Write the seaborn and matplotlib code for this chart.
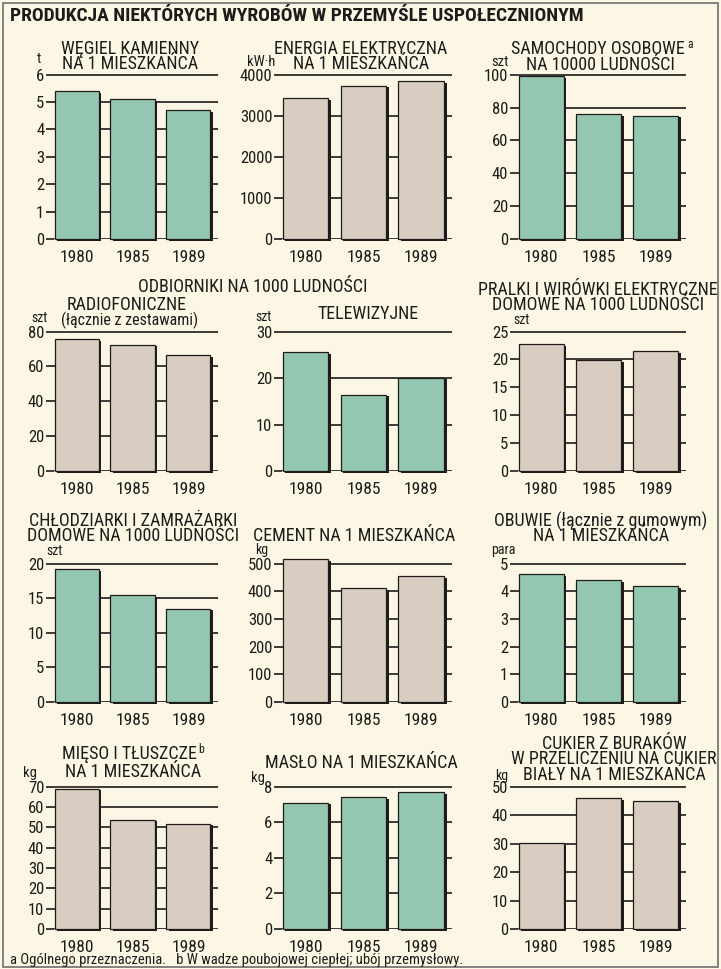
import matplotlib
matplotlib.use("Agg")
import matplotlib.pyplot as plt
import matplotlib.patheffects as pe
import matplotlib.font_manager as fm
from matplotlib.patches import Rectangle
import seaborn as sns
import pandas as pd

# dane
years = ['1980', '1985', '1989']
wegiel = [5.4, 5.1, 4.7]
energia = [3420, 3730, 3840]
samochody = [99, 76, 75]
radio = [75.5, 72.5, 66.5]
telewizory = [25.5, 16.4, 20.1]
pralki = [22.7, 19.9, 21.5]
chlodziarki = [19.2, 15.4, 13.5]
cement = [517, 410, 454]
obuwie = [4.62, 4.40, 4.18]
mieso = [69.0, 53.8, 51.7]
maslo = [7.1, 7.4, 7.7]
cukier = [30.2, 45.9, 44.8]

BG = '#fbf7e4'
TEAL = '#94c7b1'
BEIGE = '#d9cdc2'
INK = '#1e1b1a'


def pick_font():
    # szukamy kroju wąskiego, jak w oryginale
    names = {f.name for f in fm.fontManager.ttflist}
    for n in ['Liberation Sans Narrow', 'Roboto Condensed', 'DejaVu Sans Condensed',
              'Noto Sans Condensed', 'Open Sans Condensed', 'Arial Narrow']:
        if n in names:
            return n, 'normal', 1.0
    for f in fm.fontManager.ttflist:
        if f.stretch in ('condensed', 'semi-condensed', 'extra-condensed') and \
                f.name in ('DejaVu Sans', 'Noto Sans', 'Roboto', 'Open Sans', 'Liberation Sans', 'Lato'):
            return f.name, f.stretch, 1.0
    return 'DejaVu Sans', 'normal', 0.8


FONT, STRETCH, K = pick_font()

sns.set_theme(style='white')
plt.rcParams['font.family'] = [FONT, 'DejaVu Sans']
plt.rcParams['font.stretch'] = STRETCH

W, H = 721, 969
fig = plt.figure(figsize=(W / 100, H / 100), dpi=100, facecolor=BG)


def px(x, y):
    return x / W, 1 - y / H


def panel(left, right, top, bottom, values, ymax, step, color):
    x0, y1 = px(left, top)
    x1, y0 = px(right, bottom)
    ax = fig.add_axes([x0, y0, x1 - x0, y1 - y0])
    df = pd.DataFrame({'rok': years, 'wartosc': values})
    sns.barplot(data=df, x='rok', y='wartosc', ax=ax, color=color, width=0.79,
                edgecolor=INK, linewidth=0.9, saturation=1, zorder=3)
    for p in ax.patches:
        p.set_clip_on(False)
        p.set_path_effects([pe.SimplePatchShadow(offset=(1.8, -1.2), shadow_rgbFace=INK, alpha=1),
                            pe.Normal()])
    ax.set_facecolor(BG)
    ax.set_xlim(-0.405, 2.53)
    ax.set_ylim(0, ymax * 1.004)
    ticks = list(range(0, int(ymax) + 1, int(step)))
    ax.set_yticks(ticks)
    ax.set_yticklabels([str(t) for t in ticks])
    ax.set_axisbelow(True)
    ax.yaxis.grid(True, color=INK, linewidth=1.2)
    ax.xaxis.grid(False)
    for s in ax.spines.values():
        s.set_visible(False)
    ax.tick_params(axis='y', which='both', left=True, length=6, width=1.2, color=INK,
                   labelsize=12 * K, pad=1, labelcolor=INK)
    ax.tick_params(axis='x', bottom=False, labelsize=12.5 * K, pad=2, labelcolor=INK)
    ax.set_xlabel('')
    ax.set_ylabel('')
    return ax


def txt(x, y, s, size=13, ha='center', **kw):
    return fig.text(*px(x, y), s, fontsize=size * K, ha=ha, va='center', color=INK, **kw)


def block(x, y, s, gap=0.72, **kw):
    # tytuł kilkuwierszowy, ciasno złożony
    return txt(x, y, s, linespacing=gap, **kw)


def sup(t, s, line_top=None):
    # mała litera przypisu tuż za pierwszym wierszem tytułu
    r = fig.canvas.get_renderer()
    bb = t.get_window_extent(renderer=r)
    y = bb.y1 if line_top is None else line_top
    fig.text((bb.x1 + 2) / W, (y + 2) / H, s, fontsize=8.5 * K, ha='left', va='top', color=INK)


cols = [(54, 218), (282, 452), (518, 686)]
rows = [(74, 239), (331, 471), (563, 702), (786, 929)]

panel(*cols[0], *rows[0], wegiel, 6, 1, TEAL)
panel(*cols[1], *rows[0], energia, 4000, 1000, BEIGE)
panel(*cols[2], *rows[0], samochody, 100, 20, TEAL)
panel(*cols[0], *rows[1], radio, 80, 20, BEIGE)
panel(*cols[1], *rows[1], telewizory, 30, 10, TEAL)
panel(*cols[2], *rows[1], pralki, 25, 5, BEIGE)
panel(*cols[0], *rows[2], chlodziarki, 20, 5, TEAL)
panel(*cols[1], *rows[2], cement, 500, 100, BEIGE)
panel(*cols[2], *rows[2], obuwie, 5, 1, TEAL)
panel(*cols[0], *rows[3], mieso, 70, 10, BEIGE)
panel(*cols[1], *rows[3], maslo, 8, 2, TEAL)
panel(*cols[2], *rows[3], cukier, 50, 10, BEIGE)

fig.canvas.draw()

# tytuł główny
fig.text(*px(10, 16), 'PRODUKCJA NIEKTÓRYCH WYROBÓW W PRZEMYŚLE USPOŁECZNIONYM',
         fontsize=14 * K, fontweight='bold', ha='left', va='center', color=INK)

# wiersz 1
block(130, 56.5, 'WĘGIEL KAMIENNY\nNA 1 MIESZKAŃCA')
txt(39, 59, 't', size=10.5)
block(361, 56.5, 'ENERGIA ELEKTRYCZNA\nNA 1 MIESZKAŃCA')
txt(261, 62, 'kW·h', size=10.5)
t = txt(598, 49, 'SAMOCHODY OSOBOWE')
sup(t, 'a')
txt(600, 65, 'NA 10000 LUDNOŚCI')
txt(500, 62, 'szt', size=10.5)

# wiersz 2
txt(253, 287, 'ODBIORNIKI NA 1000 LUDNOŚCI')
txt(127, 305, 'RADIOFONICZNE')
txt(130, 320, '(łącznie z zestawami)', size=11.5)
txt(39, 318, 'szt', size=10)
txt(368, 314, 'TELEWIZYJNE')
txt(263, 317, 'szt', size=10)
block(598, 297.5, 'PRALKI I WIRÓWKI ELEKTRYCZNE\nDOMOWE NA 1000 LUDNOŚCI')
txt(521, 320, 'szt', size=10)

# wiersz 3
block(133, 528.5, 'CHŁODZIARKI I ZAMRAŻARKI\nDOMOWE NA 1000 LUDNOŚCI')
txt(55, 551, 'szt', size=10)
txt(354, 536, 'CEMENT NA 1 MIESZKAŃCA')
txt(262, 550, 'kg', size=10)
block(601, 528.5, 'OBUWIE (łącznie z gumowym)\nNA 1 MIESZKAŃCA')
txt(503, 550, 'para', size=10)

# wiersz 4
t = txt(129, 754, 'MIĘSO I TŁUSZCZE')
sup(t, 'b')
txt(133, 772, 'NA 1 MIESZKAŃCA')
txt(30, 773, 'kg', size=10.5)
txt(361, 763, 'MASŁO NA 1 MIESZKAŃCA')
txt(258, 778, 'kg', size=10.5)
block(614, 759.5, 'CUKIER Z BURAKÓW\nW PRZELICZENIU NA CUKIER\nBIAŁY NA 1 MIESZKAŃCA', gap=0.8)
txt(502, 776, 'kg', size=10)

# przypisy
txt(10, 960, 'a Ogólnego przeznaczenia.   b W wadze poubojowej ciepłej; ubój przemysłowy.',
    size=10.5, ha='left')

fig.patches.append(Rectangle((3 / W, 2 / H), 1 - 6 / W, 1 - 5 / H, transform=fig.transFigure,
                             fill=False, edgecolor='#6e6e6e', linewidth=1.2))

fig.savefig('out.png', dpi=100, facecolor=BG)
